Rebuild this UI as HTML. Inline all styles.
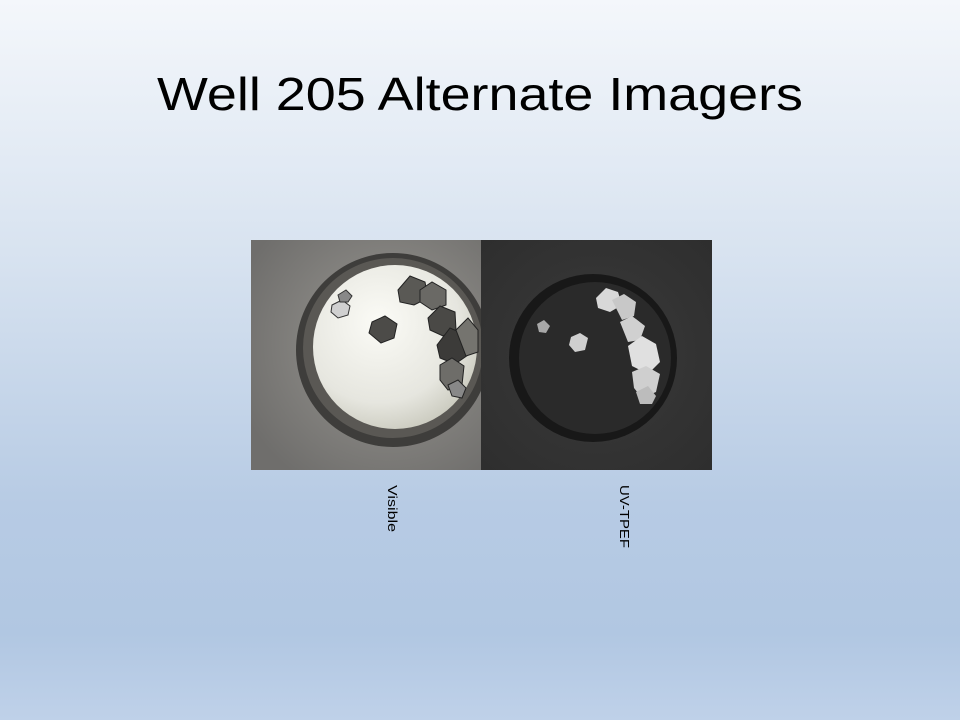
<!DOCTYPE html>
<html><head><meta charset="utf-8"><style>
html,body{margin:0;padding:0;width:960px;height:720px;overflow:hidden}
body{background:linear-gradient(to bottom,#f4f7fb 0%,#d8e3f0 35%,#b7cbe4 70%,#b1c7e2 88%,#bfd1e9 100%)}
svg{position:absolute;left:0;top:0}
</style></head><body>
<svg width="960" height="720" viewBox="0 0 960 720">
<defs>
<radialGradient id="bgL" cx="0.6" cy="0.45" r="0.7"><stop offset="0" stop-color="#9a9893"/><stop offset="1" stop-color="#6f6e6c"/></radialGradient>
<radialGradient id="dropL" cx="0.4" cy="0.35" r="0.7"><stop offset="0" stop-color="#fbfbf6"/><stop offset="0.7" stop-color="#e6e6df"/><stop offset="1" stop-color="#c9c9bd"/></radialGradient>
<radialGradient id="bgR" cx="0.5" cy="0.5" r="0.7"><stop offset="0" stop-color="#3a3a3a"/><stop offset="1" stop-color="#2e2e2e"/></radialGradient>
</defs>
<text x="480" y="110" text-anchor="middle" font-family="Liberation Sans, sans-serif" font-size="46" fill="#000" textLength="646" lengthAdjust="spacingAndGlyphs">Well 205 Alternate Imagers</text>

<g>
<rect x="251" y="240" width="230" height="230" fill="url(#bgL)"/>
<circle cx="393" cy="350" r="97" fill="#3e3d3b"/>
<circle cx="393" cy="348" r="90" fill="#5a5854"/>
<circle cx="395" cy="347" r="82" fill="url(#dropL)"/>
<polygon points="372,322 385,316 397,324 394,338 381,343 369,333" fill="#4c4b48" stroke="#222" stroke-width="1"/>
<polygon points="332,305 342,300 350,306 348,315 338,318 331,312" fill="#d0d0d0" stroke="#333"/>
<polygon points="338,295 346,290 352,296 348,302 340,302" fill="#888" stroke="#333"/>
<polygon points="398,290 410,276 425,282 428,298 414,305 400,302" fill="#5a5955" stroke="#222"/>
<polygon points="420,290 432,282 446,290 446,305 432,310 420,302" fill="#6a6965" stroke="#222"/>
<polygon points="428,318 440,306 455,312 456,330 443,336 430,330" fill="#4a4946" stroke="#222"/>
<polygon points="437,345 450,328 466,335 468,355 455,364 440,358" fill="#3c3b39" stroke="#222"/>
<polygon points="440,365 452,358 464,366 462,385 448,390 440,380" fill="#6e6d69" stroke="#222"/>
<polygon points="448,385 458,380 466,388 462,398 452,396" fill="#888" stroke="#222"/>
<polygon points="456,330 468,318 478,330 478,352 466,356" fill="#75746f" stroke="#222"/>
</g>

<g>
<rect x="481" y="240" width="231" height="230" fill="url(#bgR)"/>
<circle cx="593" cy="358" r="84" fill="#181818"/>
<circle cx="595" cy="358" r="76" fill="#2a2a2a"/>
<polygon points="571,337 580,333 588,338 585,350 575,352 569,345" fill="#cfcfcf"/>
<polygon points="537,324 544,320 550,326 546,333 539,332" fill="#a8a8a8"/>
<polygon points="596,298 606,288 618,292 622,305 610,312 598,308" fill="#d8d8d8"/>
<polygon points="612,300 624,294 636,302 634,316 622,320" fill="#c8c8c8"/>
<polygon points="620,322 632,316 645,326 640,340 628,342" fill="#d0d0d0"/>
<polygon points="628,346 642,336 656,344 660,362 648,374 632,366" fill="#e0e0e0"/>
<polygon points="632,372 646,366 660,374 656,392 642,398 634,388" fill="#cfcfcf"/>
<polygon points="636,392 648,386 656,396 652,404 640,404" fill="#bcbcbc"/>
</g>

<text transform="translate(388,485) rotate(90)" font-family="Liberation Sans, sans-serif" font-size="13" fill="#000" textLength="47" lengthAdjust="spacingAndGlyphs">Visible</text>
<text transform="translate(620,485) rotate(90)" font-family="Liberation Sans, sans-serif" font-size="13" fill="#000" textLength="63" lengthAdjust="spacingAndGlyphs">UV-TPEF</text>
</svg>
</body></html>
